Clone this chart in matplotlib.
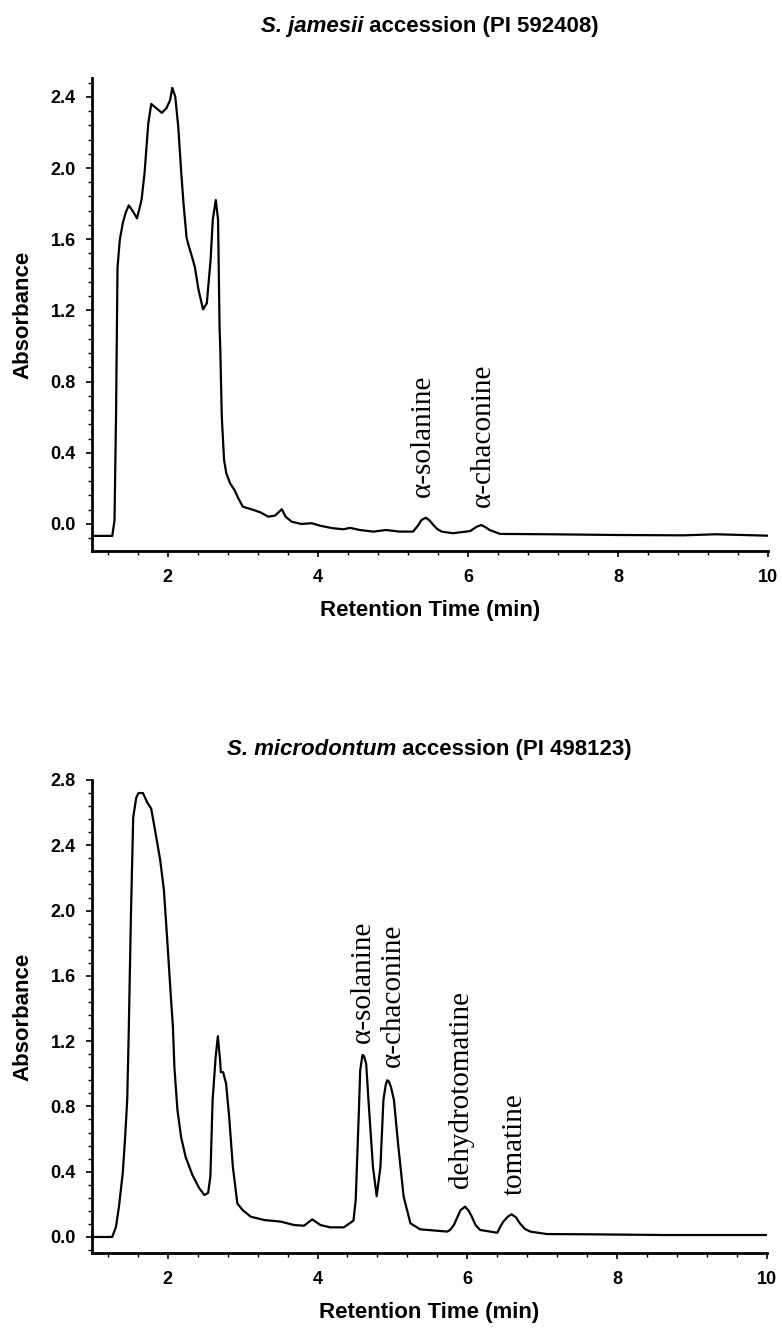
import matplotlib

matplotlib.use("Agg")
import matplotlib.pyplot as plt  # noqa: E402
from matplotlib.ticker import FormatStrFormatter, MultipleLocator  # noqa: E402

plt.rcParams["font.family"] = "Liberation Sans"
plt.rcParams["font.weight"] = "bold"

# S. jamesii chromatogram
jam_time = [1.00, 1.26, 1.29, 1.31, 1.33, 1.36, 1.40, 1.44, 1.48, 1.53, 1.59,
            1.65, 1.69, 1.74, 1.78, 1.85, 1.92, 1.98, 2.03, 2.06, 2.10, 2.14,
            2.18, 2.21, 2.25, 2.28, 2.31, 2.36, 2.41, 2.47, 2.52, 2.57, 2.60,
            2.64, 2.67, 2.69, 2.70, 2.72, 2.75, 2.78, 2.83, 2.89, 2.94, 3.00,
            3.14, 3.23, 3.34, 3.43, 3.52, 3.57, 3.65, 3.78, 3.92, 4.03, 4.20,
            4.34, 4.43, 4.56, 4.74, 4.91, 5.09, 5.27, 5.34, 5.38, 5.44, 5.49,
            5.54, 5.59, 5.65, 5.80, 6.03, 6.12, 6.18, 6.24, 6.29, 6.43, 7.09,
            7.98, 8.87, 9.31, 10.0]
jam_abs = [-0.067, -0.067, 0.02, 0.60, 1.44, 1.595, 1.69, 1.75, 1.79, 1.76,
           1.717, 1.82, 1.97, 2.25, 2.36, 2.335, 2.31, 2.335, 2.38, 2.45, 2.40,
           2.23, 1.97, 1.80, 1.61, 1.56, 1.52, 1.445, 1.315, 1.206, 1.24, 1.48,
           1.71, 1.82, 1.71, 1.11, 0.98, 0.60, 0.36, 0.285, 0.229, 0.19, 0.144,
           0.097, 0.079, 0.066, 0.041, 0.047, 0.083, 0.041, 0.013, 0.0, 0.004,
           -0.01, -0.024, -0.03, -0.022, -0.034, -0.043, -0.034, -0.043, -0.043,
           -0.006, 0.022, 0.035, 0.019, -0.006, -0.028, -0.043, -0.052, -0.04,
           -0.015, -0.006, -0.02, -0.034, -0.056, -0.058, -0.062, -0.064,
           -0.058, -0.066]
jam_peaks = ["\u03b1-solanine", "\u03b1-chaconine"]
jam_peak_x = [5.40, 6.20]
jam_peak_y = [0.15, 0.095]

# S. microdontum chromatogram
mic_time = [1.00, 1.26, 1.31, 1.35, 1.40, 1.43, 1.46, 1.48, 1.51, 1.54, 1.58,
            1.61, 1.67, 1.70, 1.73, 1.78, 1.84, 1.90, 1.95, 2.00, 2.04, 2.07,
            2.09, 2.13, 2.18, 2.24, 2.33, 2.42, 2.49, 2.54, 2.57, 2.60, 2.64,
            2.67, 2.70, 2.71, 2.74, 2.78, 2.82, 2.87, 2.93, 3.00, 3.11, 3.29,
            3.51, 3.69, 3.82, 3.93, 4.04, 4.17, 4.35, 4.48, 4.51, 4.55, 4.57,
            4.60, 4.62, 4.65, 4.68, 4.74, 4.79, 4.84, 4.88, 4.91, 4.93, 4.95,
            4.98, 5.02, 5.08, 5.15, 5.24, 5.37, 5.73, 5.77, 5.82, 5.91, 5.97,
            6.02, 6.06, 6.11, 6.17, 6.40, 6.44, 6.48, 6.54, 6.59, 6.65, 6.70,
            6.77, 6.84, 7.06, 7.73, 8.62, 10.0]
mic_abs = [0.0, 0.0, 0.063, 0.186, 0.39, 0.594, 0.84, 1.25, 1.98, 2.57, 2.69,
           2.72, 2.72, 2.69, 2.66, 2.625, 2.47, 2.31, 2.125, 1.78, 1.49, 1.29,
           1.04, 0.78, 0.61, 0.49, 0.38, 0.30, 0.257, 0.27, 0.37, 0.84, 1.10,
           1.23, 1.08, 1.01, 1.01, 0.94, 0.74, 0.43, 0.206, 0.165, 0.124,
           0.104, 0.094, 0.073, 0.069, 0.108, 0.073, 0.059, 0.059, 0.10, 0.227,
           0.74, 1.02, 1.115, 1.11, 1.06, 0.84, 0.43, 0.25, 0.43, 0.84, 0.93,
           0.96, 0.955, 0.92, 0.84, 0.55, 0.247, 0.084, 0.047, 0.033, 0.043,
           0.073, 0.165, 0.186, 0.159, 0.124, 0.073, 0.043, 0.026, 0.063, 0.094,
           0.124, 0.139, 0.12, 0.084, 0.049, 0.033, 0.018, 0.016, 0.012, 0.012]
mic_peaks = ["\u03b1-solanine", "\u03b1-chaconine", "dehydrotomatine", "tomatine"]
mic_peak_x = [4.61, 5.00, 5.92, 6.63]
mic_peak_y = [1.19, 1.04, 0.30, 0.257]


def style_axes(ax, ylim):
    ax.set_xlim(0.99, 10.0)
    ax.set_ylim(*ylim)
    ax.spines["top"].set_visible(False)
    ax.spines["right"].set_visible(False)
    for s in ("left", "bottom"):
        ax.spines[s].set_linewidth(2.0)
    ax.xaxis.set_major_locator(MultipleLocator(2))
    ax.xaxis.set_minor_locator(MultipleLocator(0.4))
    ax.yaxis.set_major_locator(MultipleLocator(0.4))
    ax.yaxis.set_minor_locator(MultipleLocator(0.08))
    ax.yaxis.set_major_formatter(FormatStrFormatter("%.1f"))
    ax.tick_params(which="major", length=4.3, width=1.2, labelsize=13)
    ax.tick_params(which="minor", length=2.6, width=1.0)
    ax.tick_params(axis="x", which="major", pad=8.5)
    ax.tick_params(axis="y", which="major", pad=7.5)
    ax.set_xlabel("Retention Time (min)", fontsize=16, fontweight="bold", labelpad=10)
    ax.set_ylabel("Absorbance", fontsize=16, fontweight="bold", labelpad=12)


def add_title(ax, species, rest, rise_px):
    # italic species name followed by upright text, centred over the axes
    y = 1 + rise_px / ax.bbox.height
    t1 = ax.text(0, y, species, transform=ax.transAxes, ha="left", va="baseline",
                 fontsize=16, fontweight="bold", style="italic")
    t2 = ax.annotate(rest, xy=(1, 0), xycoords=t1, ha="left", va="bottom",
                     fontsize=16, fontweight="bold")
    return t1, t2


fig = plt.figure(figsize=(7.82, 13.36), dpi=100)
ax1 = fig.add_axes([0.11765, 0.58757, 0.86445, 0.35382])
ax2 = fig.add_axes([0.11765, 0.0619, 0.86317, 0.35427])

ax1.plot(jam_time, jam_abs, color="black", linewidth=1.6)
style_axes(ax1, (-0.152, 2.504))
for name, x, y in zip(jam_peaks, jam_peak_x, jam_peak_y):
    ax1.text(x, y, name, rotation=90, ha="center", va="bottom",
             family="Liberation Serif", fontweight="normal", fontsize=21)

ax2.plot(mic_time, mic_abs, color="black", linewidth=1.6)
style_axes(ax2, (-0.10, 2.80))
for name, x, y in zip(mic_peaks, mic_peak_x, mic_peak_y):
    ax2.text(x, y, name, rotation=90, ha="center", va="bottom",
             family="Liberation Serif", fontweight="normal", fontsize=21)

titles = [add_title(ax1, "S. jamesii", " accession (PI 592408)", 46),
          add_title(ax2, "S. microdontum", " accession (PI 498123)", 25)]

fig.canvas.draw()
renderer = fig.canvas.get_renderer()
for ax, (t1, t2) in zip([ax1, ax2], titles):
    b1 = t1.get_window_extent(renderer)
    b2 = t2.get_window_extent(renderer)
    total = b2.x1 - b1.x0
    left_px = ax.bbox.x0 + ax.bbox.width / 2 - total / 2
    t1.set_x((left_px - ax.bbox.x0) / ax.bbox.width)

fig.savefig("out.png", dpi=100)
plt.close(fig)
